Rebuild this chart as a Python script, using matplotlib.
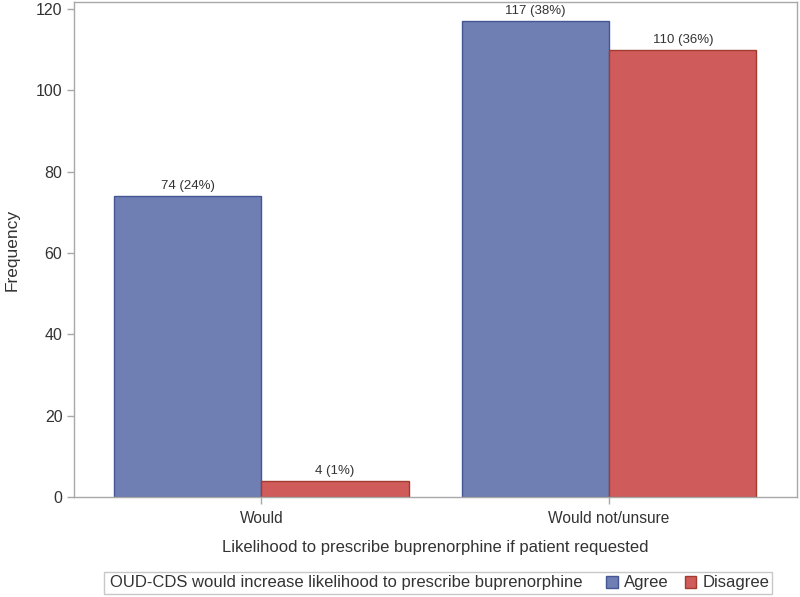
import matplotlib
matplotlib.use("Agg")
import matplotlib.pyplot as plt
import numpy as np
from matplotlib.patches import Rectangle, Patch

plt.rcParams['font.family'] = ['Liberation Sans', 'DejaVu Sans']

categories = ["Would", "Would not/unsure"]
groups = ["Agree", "Disagree"]
agree = [74, 117]
disagree = [4, 110]
yticks = [0, 20, 40, 60, 80, 100, 120]

fill_colors = ["#6F7EB3", "#D05B5B"]
edge_colors = ["#445694", "#A23A2E"]
text_color = "#333333"
axis_color = "#A8A8A8"

total = sum(agree) + sum(disagree)

fig = plt.figure(figsize=(8.0, 5.97), dpi=100)
ax = fig.add_axes([0.092, 0.1675, 0.904, 0.829])

x = np.arange(len(categories))
w = 0.424
series = [agree, disagree]
for i, (vals, name) in enumerate(zip(series, groups)):
    offs = -w / 2 if i == 0 else w / 2
    bars = ax.bar(x + offs, vals, width=w, color=fill_colors[i],
                  edgecolor=edge_colors[i], linewidth=1.0, label=name, zorder=2)
    labels = [f"{v} ({round(100 * v / total)}%)" for v in vals]
    ax.bar_label(bars, labels=labels, padding=3, fontsize=9.5, color=text_color)

ax.set_xlim(-0.54, 1.54)
ax.set_ylim(0, 121.7)
ax.set_xticks(x)
ax.set_xticklabels(categories, fontsize=11.2, color=text_color)
ax.set_yticks(yticks)
ax.set_yticklabels([str(t) for t in yticks], fontsize=11.5, color=text_color)
ax.tick_params(axis='both', colors=axis_color, labelcolor=text_color, length=5, width=1)
ax.tick_params(axis='x', pad=5)
ax.tick_params(axis='y', pad=3)
for s in ax.spines.values():
    s.set_color(axis_color)
    s.set_linewidth(1)
ax.set_xlabel("Likelihood to prescribe buprenorphine if patient requested",
              fontsize=12, color=text_color, labelpad=10)
ax.set_ylabel("Frequency", fontsize=12.5, color=text_color, labelpad=12)

# Legend box with inline title
fy0 = 1 - 594 / 597
fy1 = 1 - 572 / 597
fx0 = 104 / 800
fx1 = 772 / 800
frame = Rectangle((fx0, fy0), fx1 - fx0, fy1 - fy0, transform=fig.transFigure,
                  facecolor="white", edgecolor="#C8C8C8", linewidth=1)
fig.patches.append(frame)
ymid = (fy0 + fy1) / 2
fig.text(110 / 800, ymid, "OUD-CDS would increase likelihood to prescribe buprenorphine",
         fontsize=12, color=text_color, va='center', ha='left')
handles = [Patch(facecolor=fill_colors[i], edgecolor=edge_colors[i], label=groups[i])
           for i in range(2)]
fig.legend(handles=handles, loc='center left', bbox_to_anchor=(606 / 800, ymid),
           ncol=2, frameon=False, fontsize=12, handlelength=0.7, handleheight=0.7,
           handletextpad=0.35, columnspacing=1.0, labelcolor=text_color,
           borderpad=0, borderaxespad=0)

fig.savefig("out.png", dpi=100)
